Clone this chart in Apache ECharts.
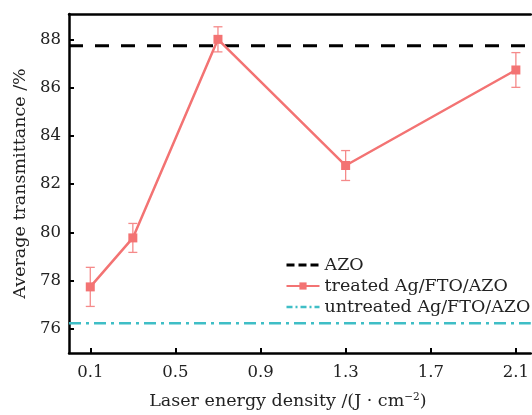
<!DOCTYPE html>
<html><head><meta charset="utf-8">
<script src="https://cdn.jsdelivr.net/npm/echarts@6/dist/echarts.min.js"></script>
<style>html,body{margin:0;padding:0;background:#fff}#c{width:532px;height:415px}</style>
</head><body><div id="c"></div>
<script>
const xValues = [0.1, 0.3, 0.7, 1.3, 2.1];
const treated = [77.74, 79.77, 88.0, 82.77, 86.73];
const errors = [0.81, 0.6, 0.52, 0.62, 0.72];
const azoValue = 87.73;
const untreatedValue = 76.23;
const xTicks = [0.1, 0.5, 0.9, 1.3, 1.7, 2.1];
const yTicks = [76, 78, 80, 82, 84, 86, 88];
const xMin = 0, xMax = 2.17, yMin = 75, yMax = 89.05;

const font = 'DejaVu Serif';
const chart = echarts.init(document.getElementById('c'));
const red = '#f37373';
const cyan = '#3fbec6';
const hidden = {opacity: 0};
chart.setOption({
  animation: false,
  grid: {left: 69, right: 0, top: 14, bottom: 54},
  legend: {
    orient: 'vertical', left: 280, top: 251, itemWidth: 33, itemHeight: 9, itemGap: 3,
    textStyle: {fontFamily: font, fontSize: 17.5, color: '#222', padding: [0, 0, 0, 0]},
    data: [
      {name: 'AZO', itemStyle: hidden, lineStyle: {type: [8, 4], width: 3}},
      {name: 'treated Ag/FTO/AZO', lineStyle: {width: 2}},
      {name: 'untreated Ag/FTO/AZO', itemStyle: hidden, lineStyle: {type: [6, 3, 2, 3], width: 2.5}}
    ]
  },
  xAxis: [{
    type: 'value', min: xMin, max: xMax,
    name: '{a|Laser energy density /(J · cm}{s|−2}{a|)}',
    nameLocation: 'middle', nameGap: 39,
    nameTextStyle: {padding: [0, 24, 0, 0], rich: {a: {fontFamily: font, fontSize: 17.5, color: '#222'}, s: {fontFamily: font, fontSize: 10.5, color: '#222', verticalAlign: 'top', padding:[0,0,7,0]}}},
    axisLine: {lineStyle: {color: '#000', width: 2.5}},
    axisTick: {inside: true, length: 5, lineStyle: {color: '#000', width: 2}, customValues: xTicks},
    axisLabel: {customValues: xTicks, fontFamily: font, fontSize: 16.5, color: '#222', margin: 11, formatter: v => v.toFixed(1)},
    splitLine: {show: false}
  }, {
    type: 'value', position: 'top', min: xMin, max: xMax,
    axisLine: {show: true, lineStyle: {color: '#000', width: 2.5}},
    axisTick: {show: false}, axisLabel: {show: false}, splitLine: {show: false}
  }],
  yAxis: {
    type: 'value', min: yMin, max: yMax,
    name: 'Average transmittance /%', nameLocation: 'middle', nameGap: 39,
    nameTextStyle: {fontFamily: font, fontSize: 17.5, color: '#222'},
    axisLine: {lineStyle: {color: '#000', width: 2.5}},
    axisTick: {inside: true, length: 5, lineStyle: {color: '#000', width: 2}, customValues: yTicks},
    axisLabel: {customValues: yTicks, fontFamily: font, fontSize: 16.5, color: '#222', margin: 8},
    splitLine: {show: false}
  },
  series: [
    {
      name: 'AZO', type: 'line', symbol: 'none', silent: true,
      data: [[xMin, azoValue], [xMax, azoValue]],
      lineStyle: {color: '#000', width: 3, type: [14, 12]}, itemStyle: {color: '#000'}
    },
    {
      name: 'treated Ag/FTO/AZO', type: 'line', symbol: 'rect', symbolSize: 9,
      data: xValues.map((x, i) => [x, treated[i]]),
      lineStyle: {color: red, width: 2.5}, itemStyle: {color: red}, z: 5
    },
    {
      name: 'untreated Ag/FTO/AZO', type: 'line', symbol: 'none', silent: true,
      data: [[xMin, untreatedValue], [xMax, untreatedValue]],
      lineStyle: {color: cyan, width: 2.5, type: [12, 5, 3, 5]}, itemStyle: {color: cyan}
    },
    {
      type: 'custom', z: 4,
      data: xValues.map((x, i) => [x, treated[i] - errors[i], treated[i] + errors[i]]),
      renderItem: (params, api) => {
        const lo = api.coord([api.value(0), api.value(1)]);
        const hi = api.coord([api.value(0), api.value(2)]);
        const w = 4.5;
        const st = {stroke: '#f58a8a', lineWidth: 1.3};
        return {type: 'group', children: [
          {type: 'line', shape: {x1: lo[0], y1: lo[1], x2: hi[0], y2: hi[1]}, style: st},
          {type: 'line', shape: {x1: lo[0]-w, y1: lo[1], x2: lo[0]+w, y2: lo[1]}, style: st},
          {type: 'line', shape: {x1: hi[0]-w, y1: hi[1], x2: hi[0]+w, y2: hi[1]}, style: st}
        ]};
      }
    }
  ]
});
</script></body></html>
